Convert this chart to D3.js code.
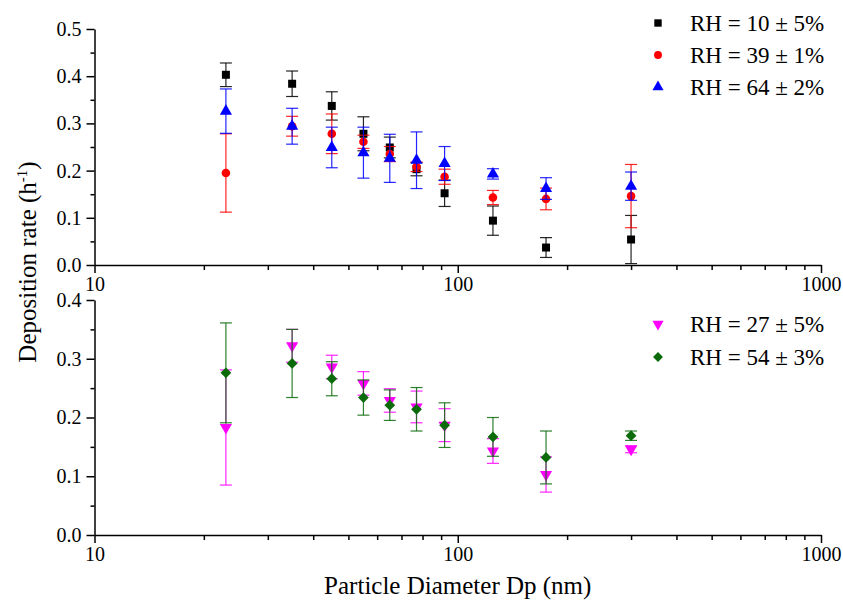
<!DOCTYPE html>
<html>
<head>
<meta charset="utf-8">
<script src="https://cdn.jsdelivr.net/npm/d3@7/dist/d3.min.js"></script>
<style>
  html, body { margin: 0; padding: 0; background: #fff; }
  svg { display: block; }
  svg text { font-family: "Liberation Serif", "Times New Roman", serif; }
</style>
</head>
<body>
<svg id="chart" width="843" height="602"></svg>
<script>
// ---- Data ----
const diameters = [23, 35, 45, 55, 65, 77, 92, 125, 175, 300];

const rh10 = [0.403, 0.384, 0.337, 0.278, 0.249, 0.203, 0.152, 0.094, 0.037, 0.054];
const rh10Err = [0.025, 0.027, 0.030, 0.036, 0.022, 0.014, 0.028, 0.031, 0.021, 0.051];
const rh39 = [0.195, 0.294, 0.278, 0.261, 0.235, 0.208, 0.187, 0.143, 0.140, 0.146];
const rh39Err = [0.083, 0.021, 0.042, 0.014, 0.016, 0.010, 0.016, 0.015, 0.023, 0.067];
const rh64 = [0.326, 0.294, 0.249, 0.238, 0.226, 0.222, 0.215, 0.193, 0.162, 0.167];
const rh64Err = [0.047, 0.038, 0.043, 0.054, 0.051, 0.060, 0.036, 0.011, 0.023, 0.030];

const rh27 = [0.183, 0.322, 0.286, 0.258, 0.229, 0.218, 0.187, 0.143, 0.103, 0.146];
const rh27Err = [0.098, 0.028, 0.020, 0.020, 0.020, 0.027, 0.028, 0.021, 0.030, 0.006];
const rh54 = [0.276, 0.292, 0.266, 0.234, 0.221, 0.214, 0.187, 0.167, 0.132, 0.169];
const rh54Err = [0.085, 0.058, 0.029, 0.030, 0.026, 0.037, 0.038, 0.033, 0.045, 0.008];

const xMajorTicks = [10, 100, 1000];
const xTickLabels = ["10", "100", "1000"];
const xMinorTicks = [20, 30, 40, 50, 60, 70, 80, 90, 200, 300, 400, 500, 600, 700, 800, 900];
const yTopMajor = [0.0, 0.1, 0.2, 0.3, 0.4, 0.5];
const yTopMinor = [0.05, 0.15, 0.25, 0.35, 0.45];
const yBotMajor = [0.0, 0.1, 0.2, 0.3, 0.4];
const yBotMinor = [0.05, 0.15, 0.25, 0.35];

const topSeries = [
  { label: "RH = 10 ± 5%", values: rh10, errors: rh10Err, color: "#000000", shape: "square" },
  { label: "RH = 39 ± 1%", values: rh39, errors: rh39Err, color: "#ff0000", shape: "circle" },
  { label: "RH = 64 ± 2%", values: rh64, errors: rh64Err, color: "#0000ff", shape: "triangle" }
];
const botSeries = [
  { label: "RH = 27 ± 5%", values: rh27, errors: rh27Err, color: "#ff00ff", shape: "triangleDown" },
  { label: "RH = 54 ± 3%", values: rh54, errors: rh54Err, color: "#0b6b0b", shape: "diamond" }
];

// ---- Layout ----
const svg = d3.select("#chart");
const xLeft = 94.5, xRight = 821;
const x = d3.scaleLog().domain([10, 1000]).range([xLeft, xRight]);
const yTop = d3.scaleLinear().domain([0, 0.5]).range([265, 29]);
const yBot = d3.scaleLinear().domain([0, 0.4]).range([535, 300]);
const FONT = '"Liberation Serif", "Times New Roman", serif';

function symbolFor(shape, big) {
  const s = big ? 1 : 0.85;
  switch (shape) {
    case "square": return d3.symbol().type(d3.symbolSquare).size(64 * s)();
    case "circle": return d3.symbol().type(d3.symbolCircle).size(58 * s)();
    case "triangle": return d3.symbol().type(d3.symbolTriangle).size(64 * s)();
    case "triangleDown": return d3.symbol().type(d3.symbolTriangle).size(64 * s)();
    case "diamond": return d3.symbol().type(d3.symbolSquare).size(58 * s)();
  }
}
function rot(shape) {
  if (shape === "triangleDown") return " rotate(180)";
  if (shape === "diamond") return " rotate(45)";
  return "";
}

function drawPanel(y, yMajor, yMinor, series) {
  const g = svg.append("g");
  // x axis
  g.append("g").attr("transform", `translate(0,${y(0)})`)
    .call(d3.axisBottom(x).tickValues(xMinorTicks).tickSize(5).tickSizeOuter(0).tickFormat(""))
    .call(a => a.select(".domain").remove())
    .selectAll("line").attr("stroke-width", 1.5);
  const xa = g.append("g").attr("transform", `translate(0,${y(0)})`)
    .call(d3.axisBottom(x).tickValues(xMajorTicks).tickSize(8).tickSizeOuter(0).tickPadding(4)
      .tickFormat((d, i) => xTickLabels[i]));
  xa.attr("font-family", null).attr("font-size", null);
  xa.select(".domain").attr("stroke-width", 1.5);
  xa.selectAll("line").attr("stroke-width", 1.5);
  xa.selectAll("text").style("font-size", "20px").style("font-family", FONT).attr("fill", "#000");

  // y axis
  g.append("g").attr("transform", `translate(${xLeft},0)`)
    .call(d3.axisLeft(y).tickValues(yMinor).tickSize(4).tickSizeOuter(0).tickFormat(""))
    .call(a => a.select(".domain").remove())
    .selectAll("line").attr("stroke-width", 1.5);
  const ya = g.append("g").attr("transform", `translate(${xLeft},0)`)
    .call(d3.axisLeft(y).tickValues(yMajor).tickSize(8).tickSizeOuter(0).tickPadding(5)
      .tickFormat(d3.format(".1f")));
  ya.attr("font-family", null).attr("font-size", null);
  ya.select(".domain").attr("stroke-width", 1.5);
  ya.selectAll("line").attr("stroke-width", 1.5);
  ya.selectAll("text").style("font-size", "20px").style("font-family", FONT).attr("fill", "#000");

  // series
  series.forEach(s => {
    const sg = g.append("g");
    const cap = 6;
    diameters.forEach((d, i) => {
      const cx = x(d), v = s.values[i], e = s.errors[i];
      const y1 = y(v + e), y2 = y(Math.max(v - e, 0));
      sg.append("line").attr("x1", cx).attr("x2", cx).attr("y1", y1).attr("y2", y2)
        .attr("stroke", s.color).attr("stroke-width", 1.2).attr("opacity", 0.85);
      [y1, y2].forEach(yy => sg.append("line").attr("x1", cx - cap).attr("x2", cx + cap)
        .attr("y1", yy).attr("y2", yy).attr("stroke", s.color).attr("stroke-width", 1.2).attr("opacity", 0.85));
    });
    diameters.forEach((d, i) => {
      sg.append("path").attr("d", symbolFor(s.shape, true))
        .attr("transform", `translate(${x(d)},${y(s.values[i])})` + rot(s.shape))
        .attr("fill", s.color);
    });
  });
}

drawPanel(yTop, yTopMajor, yTopMinor, topSeries);
drawPanel(yBot, yBotMajor, yBotMinor, botSeries);

// legends
function legend(series, x0, y0, dy) {
  series.forEach((s, i) => {
    const yy = y0 + i * dy;
    svg.append("path").attr("d", symbolFor(s.shape, false))
      .attr("transform", `translate(${x0},${yy})` + rot(s.shape)).attr("fill", s.color);
    svg.append("text").attr("x", x0 + 32).attr("y", yy).attr("dy", "0.35em")
      .style("font-size", "23px").attr("fill", "#000").text(s.label);
  });
}
legend(topSeries, 658, 23, 32);
legend(botSeries, 658, 324, 33);

// axis titles
svg.append("text").attr("x", (xLeft + xRight) / 2).attr("y", 594).attr("text-anchor", "middle")
  .style("font-size", "25px").attr("fill", "#000").text("Particle Diameter Dp (nm)");
const yt = svg.append("text").attr("transform", "translate(36,262) rotate(-90)")
  .attr("text-anchor", "middle").style("font-size", "25px").attr("fill", "#000");
yt.append("tspan").text("Deposition rate (h");
yt.append("tspan").attr("dy", -9).style("font-size", "15px").text("-1");
yt.append("tspan").attr("dy", 9).text(")");
</script>
</body>
</html>
